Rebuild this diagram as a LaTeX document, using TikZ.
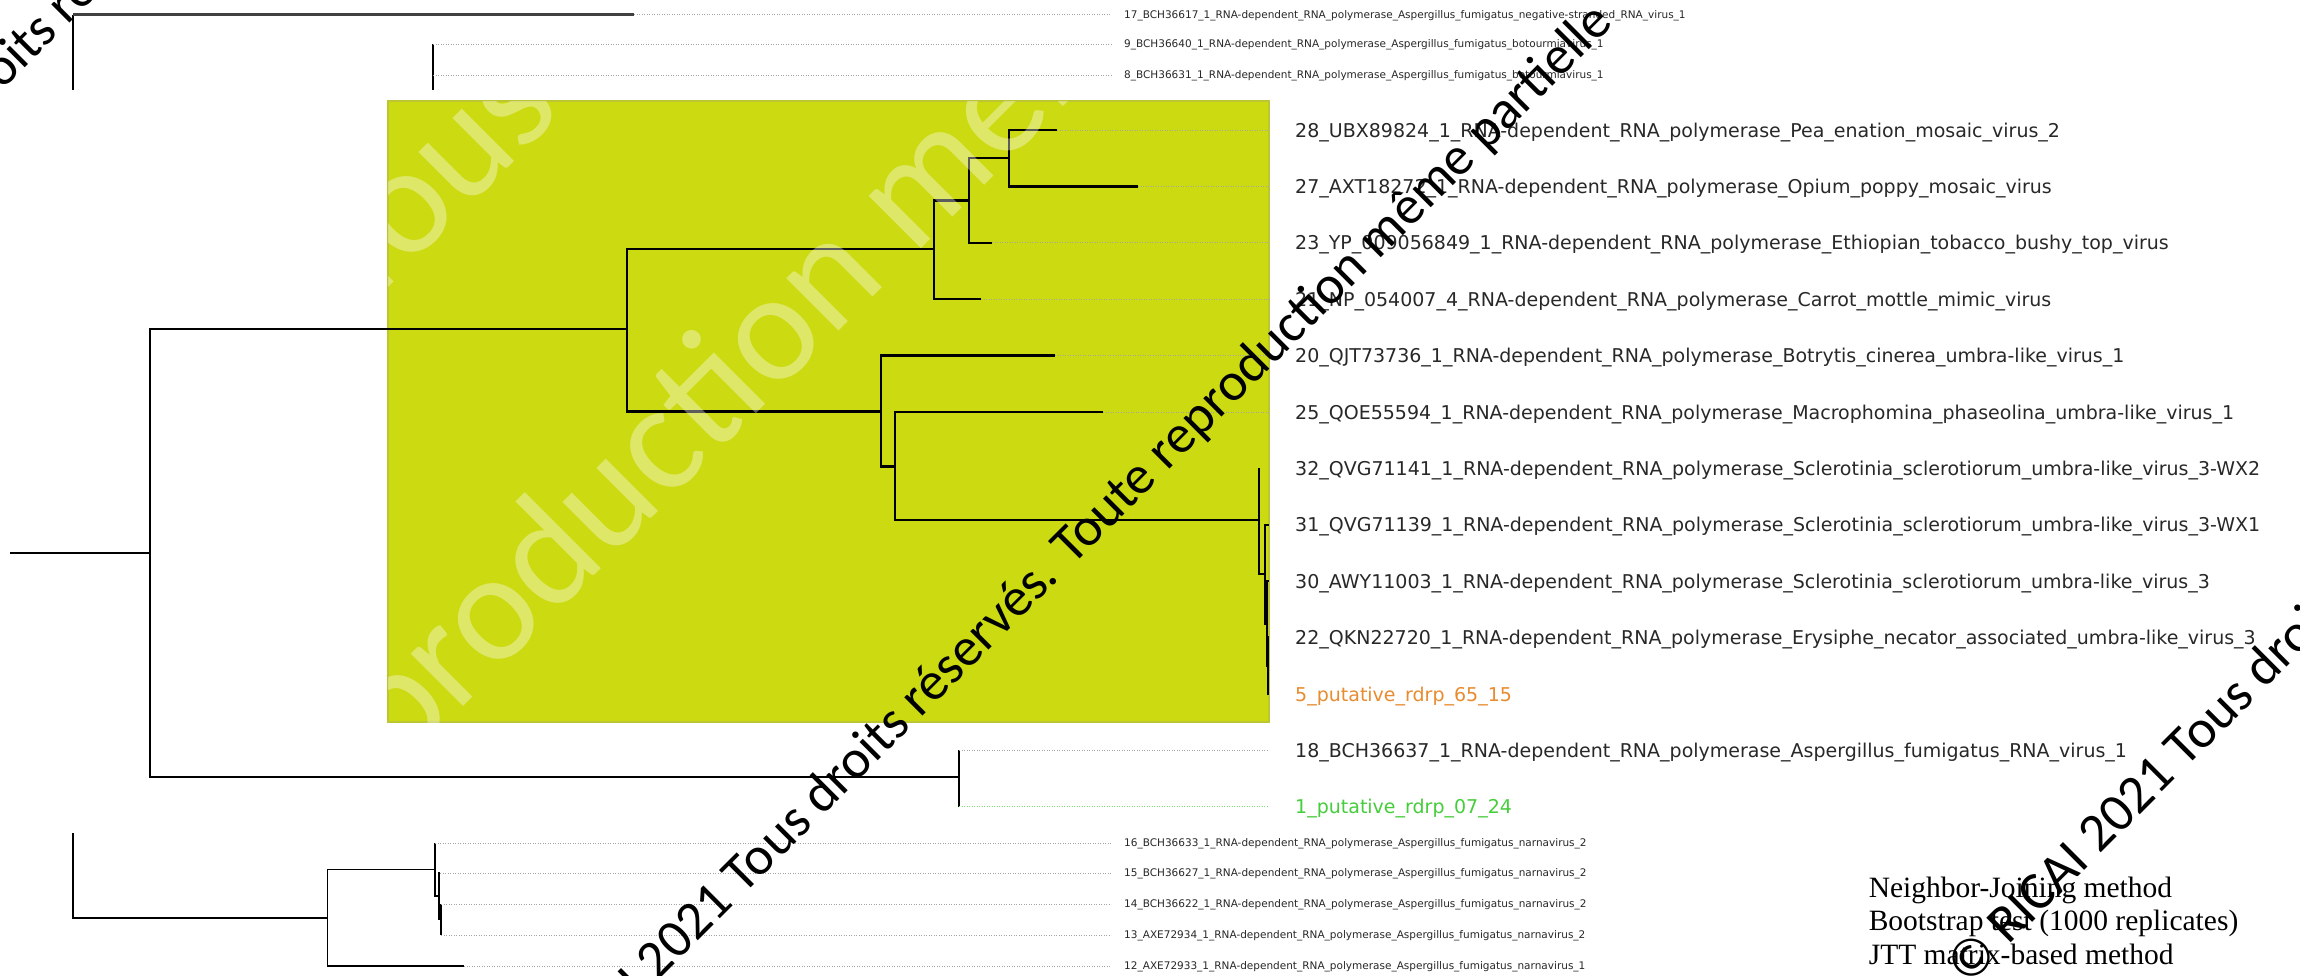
\documentclass[tikz,border=0pt]{standalone}
\usepackage{fontspec}
\newfontfamily\labfont{DejaVu Sans}
\newfontfamily\wmfont{Carlito}
\newfontfamily\serfont{Liberation Serif}
\definecolor{cladegreen}{RGB}{204,218,18}
\definecolor{cladeedge}{RGB}{188,198,50}
\definecolor{labgray}{RGB}{40,40,40}
\definecolor{dotgray}{RGB}{165,165,165}
\definecolor{putorange}{RGB}{232,140,48}
\definecolor{putgreen}{RGB}{70,205,60}
\definecolor{dotgreen}{RGB}{130,220,120}
\tikzset{
  br/.style={draw=black, line width=2.5pt},
  brs/.style={draw=black, line width=1.4pt},
  stemthick/.style={draw=black!75, line width=2.6pt},
  dots/.style={draw=dotgray, line width=1pt, dash pattern=on 0.9pt off 1.6pt},
  dotsgreen/.style={draw=dotgreen, line width=1pt, dash pattern=on 0.9pt off 1.6pt},
  labL/.style={font={\labfont\fontsize{19}{22}\selectfont}, text=labgray, inner sep=0pt, anchor=base west},
  labS/.style={font={\labfont\fontsize{10.5}{12}\selectfont}, text=labgray, inner sep=0pt, anchor=base west},
  wm/.style={font={\wmfont\fontsize{54}{60}\selectfont}, text=black, inner sep=0pt, anchor=base west, rotate=45},
  wmw/.style={font={\wmfont\fontsize{155}{160}\selectfont}, text=white, text opacity=0.36, inner sep=0pt, anchor=base west, rotate=45},
  note/.style={font={\serfont\fontsize{29.5}{33.5}\selectfont}, inner sep=0pt, anchor=base west},
}
\begin{document}
\begin{tikzpicture}[x=1pt,y=-1pt]
\useasboundingbox (0,0) rectangle (2300,975);
\fill[white] (0,0) rectangle (2300,975);
% clade box
\fill[cladegreen] (388,101) rectangle (1269,722);
\draw[cladeedge, line width=1.2pt] (388,101) rectangle (1269,722);

% ends of dotted guides
\coordinate (endS) at (1111,0);
\coordinate (endL) at (1269,0);

% ---------- top section ----------
\coordinate (topcutA) at (73,90);
\coordinate (topcutB) at (433,90);
\coordinate (t17) at (634,14.7);
\coordinate (t9) at (433,44);
\coordinate (t8) at (433,75);
\draw[brs] (topcutA) -- (73,14.7);
\draw[stemthick] (73,14.7) -- (t17);
\draw[brs] (topcutB) |- (t9);
\draw[dots] (t17) -- (t17 -| endS);
\draw[dots] (t9) -- (t9 -| endS);
\draw[dots] (t8) -- (t8 -| endS);

% ---------- main tree ----------
\coordinate (stem) at (10,553);
\coordinate (R) at (150,553);
\coordinate (A) at (627,329);
\coordinate (B) at (934,249);
\coordinate (C) at (969,200.5);
\coordinate (D) at (1009,158);
\coordinate (E) at (881,411.5);
\coordinate (F) at (895,466.5);
\coordinate (G) at (1259,520);
\coordinate (G2) at (1265,574);
\coordinate (G3) at (1267,623.5);
\coordinate (G4) at (1268,666);
\coordinate (H) at (959,777);
\coordinate (t28) at (1057,130);
\coordinate (t27) at (1138,186.4);
\coordinate (t23) at (992,242.8);
\coordinate (t21) at (981,299.2);
\coordinate (t20) at (1055,355.6);
\coordinate (t25) at (1103,412);
\coordinate (t32) at (1259,468.4);
\coordinate (t31) at (1269,524.8);
\coordinate (t30) at (1269,581.2);
\coordinate (t22) at (1269,637.6);
\coordinate (t5) at (1269,694);
\coordinate (t18) at (959,750.4);
\coordinate (t1) at (959,806.8);

\draw[br] (stem) -- (R);
\draw[br] (R) |- (A);
\draw[br] (R) |- (H);
\draw[br] (A) |- (B);
\draw[br] (A) |- (E);
\draw[br] (B) |- (C);
\draw[br] (B) |- (t21);
\draw[br] (C) |- (D);
\draw[br] (C) |- (t23);
\draw[br] (D) |- (t28);
\draw[br] (D) |- (t27);
\draw[br] (E) |- (t20);
\draw[br] (E) |- (F);
\draw[br] (F) |- (t25);
\draw[br] (F) |- (G);
\draw[br] (G) |- (t32);
\draw[br] (G) |- (G2);
\draw[br] (G2) |- (t31);
\draw[br] (G2) |- (G3);
\draw[br] (G3) |- (t30);
\draw[br] (G3) |- (G4);
\draw[br] (G4) |- (t22);
\draw[br] (G4) |- (t5);
\draw[br] (H) |- (t18);
\draw[br] (H) |- (t1);
\foreach \t in {t28,t27,t23,t21,t20,t25,t18}{\draw[dots] (\t) -- (\t -| endL);}
\draw[dotsgreen] (t1) -- (t1 -| endL);

% ---------- bottom section ----------
\coordinate (botcut) at (73,833);
\coordinate (N1) at (327.5,918);
\coordinate (N2) at (435,869.5);
\coordinate (N3) at (439,896);
\coordinate (N4) at (441,919.5);
\coordinate (t16) at (435,843);
\coordinate (t15) at (440,873);
\coordinate (t14) at (441,904);
\coordinate (t13) at (441,935);
\coordinate (t12) at (464,966);
\draw[brs] (botcut) |- (N1);
\draw[brs] (N1) |- (N2);
\draw[brs] (N1) |- (t12);
\draw[brs] (N2) |- (t16);
\draw[brs] (N2) |- (N3);
\draw[brs] (N3) |- (t15);
\draw[brs] (N3) |- (N4);
\draw[brs] (N4) |- (t14);
\draw[brs] (N4) |- (t13);
\foreach \t in {t16,t15,t14,t13,t12}{\draw[dots] (\t) -- (\t -| endS);}

% ---------- labels ----------
\node[labS] (l17) at (1124,18.5) {17\_BCH36617\_1\_RNA-dependent\_RNA\_polymerase\_Aspergillus\_fumigatus\_negative-stranded\_RNA\_virus\_1};
\node[labS] (l9) at (1124,47.8) {9\_BCH36640\_1\_RNA-dependent\_RNA\_polymerase\_Aspergillus\_fumigatus\_botourmiavirus\_1};
\node[labS] (l8) at (1124,78.8) {8\_BCH36631\_1\_RNA-dependent\_RNA\_polymerase\_Aspergillus\_fumigatus\_botourmiavirus\_1};

\node[labL] (l28) at (1295,137) {28\_UBX89824\_1\_RNA-dependent\_RNA\_polymerase\_Pea\_enation\_mosaic\_virus\_2};
\node[labL] (l27) at (1295,193.4) {27\_AXT18272\_1\_RNA-dependent\_RNA\_polymerase\_Opium\_poppy\_mosaic\_virus};
\node[labL] (l23) at (1295,249.8) {23\_YP\_009056849\_1\_RNA-dependent\_RNA\_polymerase\_Ethiopian\_tobacco\_bushy\_top\_virus};
\node[labL] (l21) at (1295,306.2) {21\_NP\_054007\_4\_RNA-dependent\_RNA\_polymerase\_Carrot\_mottle\_mimic\_virus};
\node[labL] (l20) at (1295,362.6) {20\_QJT73736\_1\_RNA-dependent\_RNA\_polymerase\_Botrytis\_cinerea\_umbra-like\_virus\_1};
\node[labL] (l25) at (1295,419) {25\_QOE55594\_1\_RNA-dependent\_RNA\_polymerase\_Macrophomina\_phaseolina\_umbra-like\_virus\_1};
\node[labL] (l32) at (1295,475.4) {32\_QVG71141\_1\_RNA-dependent\_RNA\_polymerase\_Sclerotinia\_sclerotiorum\_umbra-like\_virus\_3-WX2};
\node[labL] (l31) at (1295,531.8) {31\_QVG71139\_1\_RNA-dependent\_RNA\_polymerase\_Sclerotinia\_sclerotiorum\_umbra-like\_virus\_3-WX1};
\node[labL] (l30) at (1295,588.2) {30\_AWY11003\_1\_RNA-dependent\_RNA\_polymerase\_Sclerotinia\_sclerotiorum\_umbra-like\_virus\_3};
\node[labL] (l22) at (1295,644.6) {22\_QKN22720\_1\_RNA-dependent\_RNA\_polymerase\_Erysiphe\_necator\_associated\_umbra-like\_virus\_3};
\node[labL, text=putorange] (l5) at (1295,701) {5\_putative\_rdrp\_65\_15};
\node[labL] (l18) at (1295,757.4) {18\_BCH36637\_1\_RNA-dependent\_RNA\_polymerase\_Aspergillus\_fumigatus\_RNA\_virus\_1};
\node[labL, text=putgreen] (l1) at (1295,813.8) {1\_putative\_rdrp\_07\_24};

\node[labS] (l16) at (1124,846.8) {16\_BCH36633\_1\_RNA-dependent\_RNA\_polymerase\_Aspergillus\_fumigatus\_narnavirus\_2};
\node[labS] (l15) at (1124,876.8) {15\_BCH36627\_1\_RNA-dependent\_RNA\_polymerase\_Aspergillus\_fumigatus\_narnavirus\_2};
\node[labS] (l14) at (1124,907.8) {14\_BCH36622\_1\_RNA-dependent\_RNA\_polymerase\_Aspergillus\_fumigatus\_narnavirus\_2};
\node[labS] (l13) at (1124,938.8) {13\_AXE72934\_1\_RNA-dependent\_RNA\_polymerase\_Aspergillus\_fumigatus\_narnavirus\_2};
\node[labS] (l12) at (1124,969.8) {12\_AXE72933\_1\_RNA-dependent\_RNA\_polymerase\_Aspergillus\_fumigatus\_narnavirus\_1};

% ---------- method note ----------
\node[note] (m1) at (1868.6,897) {Neighbor-Joining method};
\node[note] (m2) at (1868.6,930.5) {Bootstrap test (1000 replicates)};
\node[note] (m3) at (1868.6,964) {JTT matrix-based method};

% ---------- watermark ----------
\begin{scope}
\clip (388,101) rectangle (1269,722);
\node[wmw] (w0) at (-262,938) {© RICAI 2021 Tous droits réservés.};
\node[wmw] (w1) at (34,1136) {Toute reproduction même partielle};
\end{scope}
\node[wm] (b0) at (-327,420) {© RICAI 2021 Tous droits réservés. Toute reproduction même partielle};
\node[wm] (b1) at (526,1113) {© RICAI 2021 Tous droits réservés. Toute reproduction même partielle};
\node[wm] (b2) at (1968,986.5) {© RICAI 2021 Tous droits réservés. Toute reproduction même partielle};
\end{tikzpicture}
\end{document}
